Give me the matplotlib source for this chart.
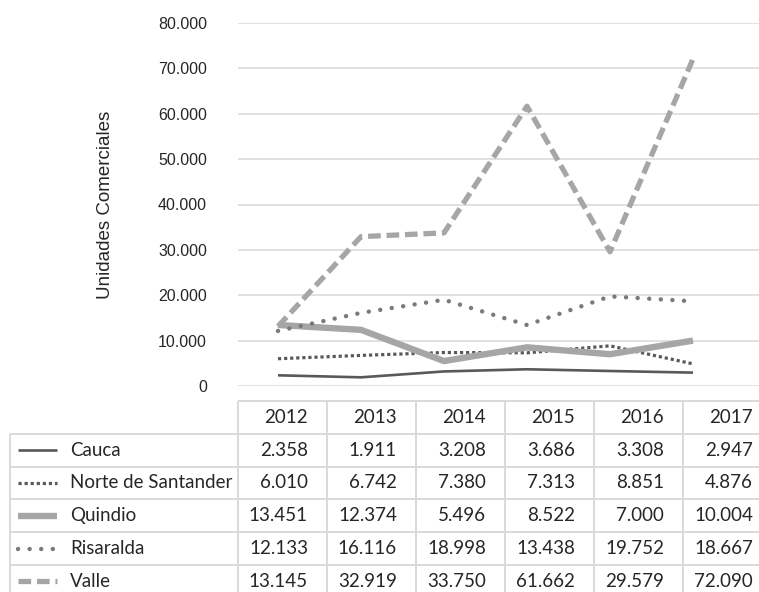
import matplotlib.pyplot as plt
from matplotlib.lines import Line2D

W, H = 759, 592

years = ["2012", "2013", "2014", "2015", "2016", "2017"]
series_names = ["Cauca", "Norte de Santander", "Quindio", "Risaralda", "Valle"]
cauca = [2358, 1911, 3208, 3686, 3308, 2947]
norte = [6010, 6742, 7380, 7313, 8851, 4876]
quindio = [13451, 12374, 5496, 8522, 7000, 10004]
risaralda = [12133, 16116, 18998, 13438, 19752, 18667]
valle = [13145, 32919, 33750, 61662, 29579, 72090]
series_values = [cauca, norte, quindio, risaralda, valle]

yticks = list(range(0, 80001, 10000))

styles = [
    dict(color="#595959", lw=1.9, ls="-"),
    dict(color="#595959", lw=2.3, ls=(0, (1, 0.9)), dash_capstyle="butt"),
    dict(color="#a6a6a6", lw=4.6, ls="-"),
    dict(color="#7a7a7a", lw=3.2, ls=(0, (0.01, 2.6)), dash_capstyle="round"),
    dict(color="#a6a6a6", lw=3.8, ls=(0, (2.4, 1.1)), dash_capstyle="butt"),
]

PX = 0.72  # points per pixel at dpi 100


def fmt(v):
    return f"{v:,}".replace(",", ".")


fig = plt.figure(figsize=(W / 100, H / 100), dpi=100)
fig.patch.set_facecolor("white")

# ---------------------------------------------------------------------------
# Line chart
# ---------------------------------------------------------------------------
ax_l, ax_r, ax_t, ax_b = 238, 759, 23, 386
ax = fig.add_axes([ax_l / W, 1 - ax_b / H, (ax_r - ax_l) / W, (ax_b - ax_t) / H])
x0, dx = 278, 83
ax.set_xlim((ax_l - x0) / dx, (ax_r - x0) / dx)
ax.set_ylim(0, 80000)
xs = list(range(len(years)))
for vals, st in zip(series_values, styles):
    ax.plot(xs, vals, color=st["color"], linewidth=st["lw"], linestyle=st["ls"],
            solid_capstyle="butt", solid_joinstyle="round",
            dash_capstyle=st.get("dash_capstyle", "butt"))

ax.set_yticks(yticks)
ax.set_yticklabels([fmt(t) for t in yticks], fontsize=11.5,
                   family=["Liberation Sans", "DejaVu Sans"], color="#262626")
ax.tick_params(axis="y", length=0, pad=31 * PX)
ax.set_xticks([])
ax.grid(axis="y", color="#d9d9d9", linewidth=1.1)
ax.set_axisbelow(True)
for sp in ax.spines.values():
    sp.set_visible(False)
ax.set_ylabel("Unidades Comerciales", fontsize=13.5,
              family=["Liberation Sans", "DejaVu Sans"], color="#262626")
ax.yaxis.set_label_coords((114 - ax_l) / (ax_r - ax_l), 0.5)

# ---------------------------------------------------------------------------
# Data table
# ---------------------------------------------------------------------------
tx = fig.add_axes([0, 0, 1, 1])
tx.set_xlim(0, W)
tx.set_ylim(H, 0)
tx.axis("off")

tab_left, col0_right, col_w = 10, 238, 89
tab_top, row_h = 401, 32.8
n_cols = len(years)
n_rows = len(series_names)
tab_right = col0_right + n_cols * col_w
tab_bottom = tab_top + (n_rows + 1) * row_h
grid_kw = dict(color="#d9d9d9", linewidth=1.4)

# header row (no label cell border)
tx.hlines(tab_top, col0_right, tab_right, **grid_kw)
for i in range(n_rows + 1):
    tx.hlines(tab_top + (i + 1) * row_h, tab_left, tab_right, **grid_kw)
tx.vlines(tab_left, tab_top + row_h, tab_bottom, **grid_kw)
for j in range(n_cols + 1):
    tx.vlines(col0_right + j * col_w, tab_top, tab_bottom, **grid_kw)

tfont = dict(fontsize=13.5, family=["Lato", "DejaVu Sans"], color="#262626")
for j, yr in enumerate(years):
    tx.text(col0_right + (j + 1) * col_w - 19, tab_top + row_h / 2, yr,
            ha="right", va="center", **tfont)

for i, (name, vals, st) in enumerate(zip(series_names, series_values, styles)):
    cy = tab_top + (i + 1.5) * row_h
    tx.add_line(Line2D([18, 57], [cy, cy], color=st["color"], linewidth=st["lw"],
                       linestyle=st["ls"], solid_capstyle="butt",
                       dash_capstyle=st.get("dash_capstyle", "butt")))
    tx.text(70, cy, name, ha="left", va="center", **tfont)
    for j, v in enumerate(vals):
        tx.text(col0_right + (j + 1) * col_w - 19, cy, fmt(v),
                ha="right", va="center", **tfont)

fig.savefig("out.png", dpi=100, facecolor="white")
